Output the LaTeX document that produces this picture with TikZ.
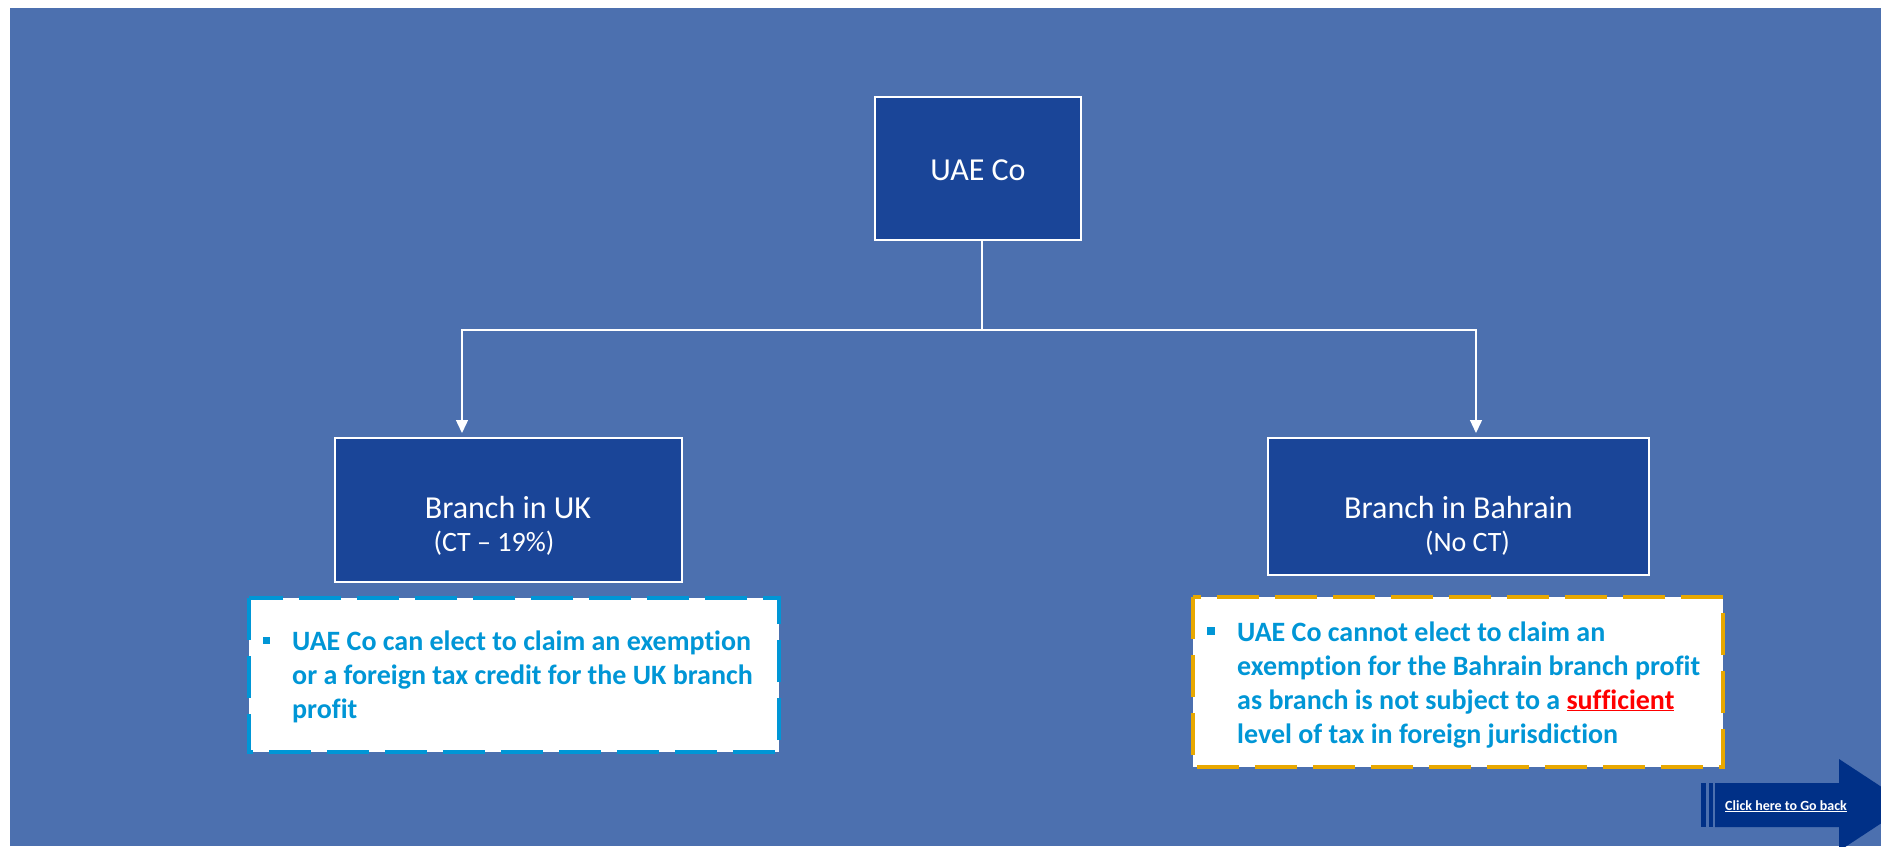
\documentclass[tikz,border=0pt]{standalone}
\usepackage{fontspec}
\setmainfont[Ligatures=NoCommon]{Carlito}
\usetikzlibrary{arrows.meta}

\definecolor{slidebg}{RGB}{76,112,175}
\definecolor{boxfill}{RGB}{26,69,152}
\definecolor{notecyan}{RGB}{0,150,214}
\definecolor{noteorange}{RGB}{232,168,0}
\definecolor{backnavy}{RGB}{0,48,135}
\definecolor{alertred}{RGB}{255,0,0}

\tikzset{
  entity/.style={draw=white, line width=1.8pt, fill=boxfill, inner sep=0pt},
  entitytext/.style={text=white, inner sep=0pt, anchor=base},
  conn/.style={draw=white, line width=1.4pt},
  connarrow/.style={conn, -{Triangle[width=12pt,length=13pt]}},
  notebox/.style={fill=white, line width=4.5pt, dash pattern=on 42pt off 16pt},
  notetext/.style={text=notecyan, font=\bfseries\fontsize{28}{34}\selectfont,
                   align=left, inner sep=0pt, anchor=base west},
  bulletmark/.style={fill=notecyan, minimum size=7.5pt, inner sep=0pt},
}

\begin{document}
\begin{tikzpicture}[x=1pt,y=-1pt]
  \clip (0,0) rectangle (1881,846);
  \fill[white] (0,0) rectangle (1881,846);
  \fill[slidebg] (10,8) rectangle (1881,846);

  % entities
  \node[entity, minimum width=206pt, minimum height=143pt] (uae) at (978,168.5) {};
  \node[entitytext, font=\fontsize{32}{38}\selectfont] (uaet) at (978,180) {UAE Co};

  \node[entity, minimum width=347pt, minimum height=144pt] (uk) at (508.5,510) {};
  \node[entitytext, font=\fontsize{32}{38}\selectfont] (ukt1) at (508,518) {Branch in UK};
  \node[entitytext, font=\fontsize{28}{32}\selectfont] (ukt2) at (494,551) {(CT – 19\%)};

  \node[entity, minimum width=381pt, minimum height=137pt] (bh) at (1458.5,506.5) {};
  \node[entitytext, font=\fontsize{32}{38}\selectfont] (bht1) at (1458.5,518) {Branch in Bahrain};
  \node[entitytext, font=\fontsize{28}{32}\selectfont] (bht2) at (1467.5,551) {(No CT)};

  % connectors
  \coordinate (junc) at (982,330);
  \coordinate (ukin) at (462,433);
  \coordinate (bhin) at (1476,433);
  \draw[conn] (junc |- uae.south) -- (junc);
  \draw[connarrow] (junc) -| (ukin);
  \draw[connarrow] (junc) -| (bhin);

  % notes
  \draw[notebox, draw=notecyan] (249,598) rectangle (779,752);
  \node[bulletmark] (ukbul) at (266.5,640.5) {};
  \node[notetext] (uknote) at (292,718) {UAE Co can elect to claim an exemption\\or a foreign tax credit for the UK branch\\profit};

  \draw[notebox, draw=noteorange] (1193,597) rectangle (1723,767);
  \node[bulletmark] (bhbul) at (1211,631) {};
  \node[notetext] (bhnote) at (1237,743) {UAE Co cannot elect to claim an\\exemption for the Bahrain branch profit\\as branch is not subject to a {\color{alertred}\underline{sufficient}}\\level of tax in foreign jurisdiction};

  % go-back button
  \fill[backnavy] (1701,783) rectangle (1706,827);
  \fill[backnavy] (1709,783) rectangle (1713,827);
  \fill[backnavy] (1715,783) -- (1839,783) -- (1839,759) -- (1909,805)
        -- (1839,851) -- (1839,827) -- (1715,827) -- cycle;
  \node[text=white, font=\bfseries\fontsize{14}{16}\selectfont, inner sep=0pt, anchor=base west]
        (goback) at (1725,810) {\underline{Click here to Go back}};
\end{tikzpicture}
\end{document}
